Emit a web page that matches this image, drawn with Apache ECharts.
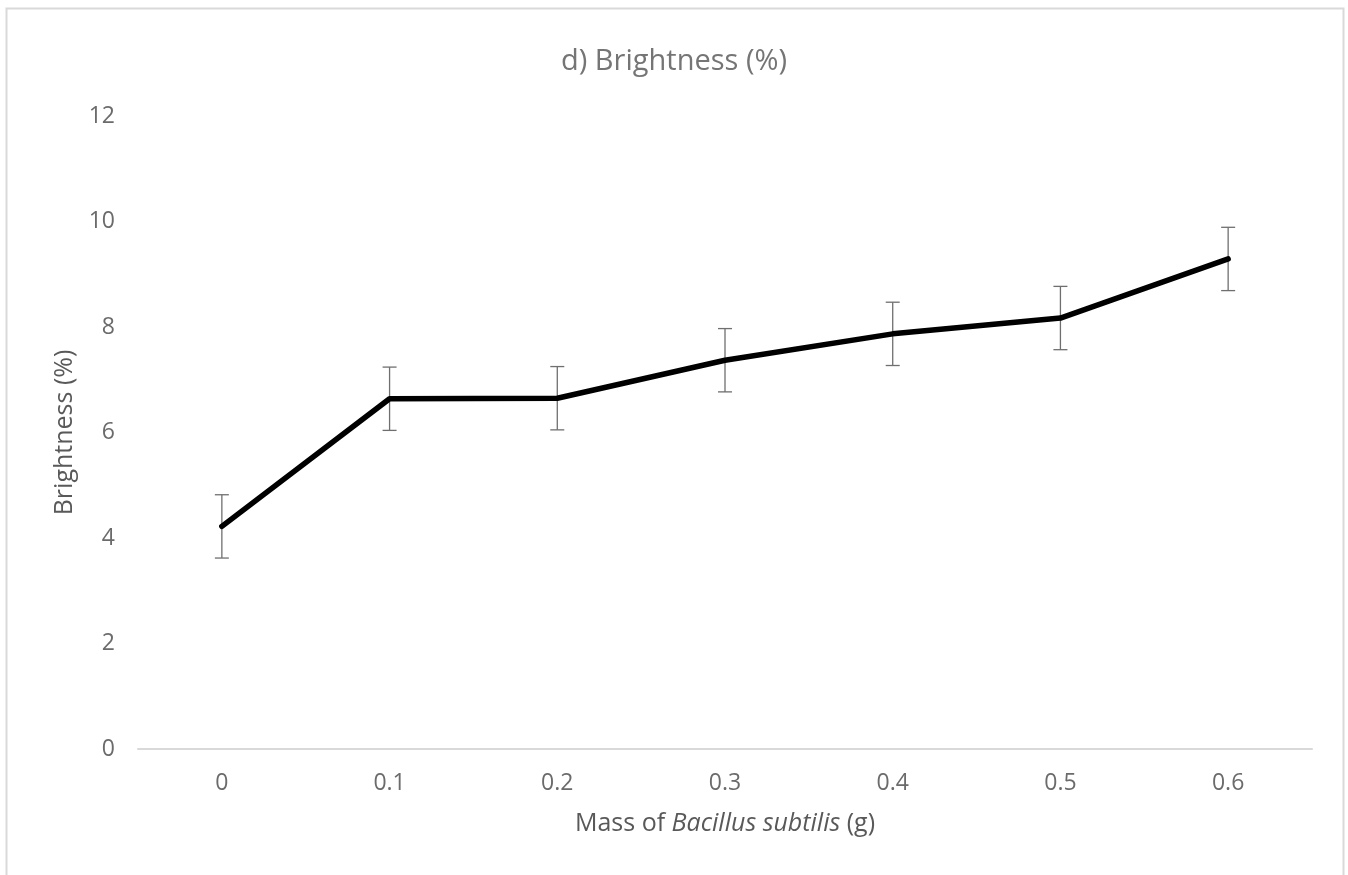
<!DOCTYPE html>
<html>
<head>
<meta charset="utf-8">
<script src="https://cdn.jsdelivr.net/npm/echarts@6/dist/echarts.min.js"></script>
<style>html,body{margin:0;padding:0;background:#fff;}#c{width:1348px;height:875px;}</style>
</head>
<body>
<div id="c"></div>
<script>
const categories = ['0', '0.1', '0.2', '0.3', '0.4', '0.5', '0.6'];
const brightness = [4.22, 6.64, 6.65, 7.37, 7.87, 8.17, 9.29];
const errors = [0.6, 0.6, 0.6, 0.6, 0.6, 0.6, 0.6];
const yTicks = { min: 0, max: 12, interval: 2 };

const errData = brightness.map((v, i) => [i, v - errors[i], v + errors[i]]);
const FONT = '"Open Sans", "Noto Sans", sans-serif';

const chart = echarts.init(document.getElementById('c'), null, { renderer: 'canvas' });
chart.setOption({
  backgroundColor: '#fff',
  animation: false,
  title: {
    text: 'd) Brightness (%)',
    left: 'center',
    top: 42,
    textStyle: { fontFamily: FONT, fontSize: 29, fontWeight: 'normal', color: '#757575' }
  },
  graphic: [{
    type: 'rect',
    shape: { x: 6.5, y: 8.5, width: 1337, height: 900 },
    style: { fill: 'none', stroke: '#d9d9d9', lineWidth: 2 },
    silent: true
  }],
  grid: { left: 138, right: 36, top: 116, bottom: 126 },
  xAxis: {
    type: 'category',
    data: categories,
    boundaryGap: true,
    axisLine: { lineStyle: { color: '#d9d9d9', width: 2 } },
    axisTick: { show: false },
    axisLabel: { fontFamily: FONT, fontSize: 23, color: '#6b6b6b', margin: 23 },
    name: '{n|Mass of }{i|Bacillus subtilis}{n| (g)}',
    nameLocation: 'middle',
    nameGap: 62,
    nameTextStyle: {
      rich: {
        n: { fontFamily: FONT, fontSize: 25, color: '#595959' },
        i: { fontFamily: FONT, fontSize: 25, color: '#595959', fontStyle: 'italic' }
      }
    }
  },
  yAxis: {
    type: 'value',
    min: yTicks.min,
    max: yTicks.max,
    interval: yTicks.interval,
    axisLine: { show: false },
    axisTick: { show: false },
    splitLine: { show: false },
    axisLabel: { fontFamily: FONT, fontSize: 23, color: '#6b6b6b', margin: 23 },
    name: 'Brightness (%)',
    nameLocation: 'middle',
    nameGap: 60,
    nameTextStyle: { fontFamily: FONT, fontSize: 25, color: '#595959' }
  },
  series: [
    {
      type: 'custom',
      z: 1,
      data: errData,
      renderItem: function (params, api) {
        const x = api.value(0);
        const lo = api.coord([x, api.value(1)]);
        const hi = api.coord([x, api.value(2)]);
        const hw = 7;
        const st = { stroke: '#6f6f6f', lineWidth: 1.3 };
        return {
          type: 'group',
          children: [
            { type: 'line', shape: { x1: lo[0], y1: lo[1], x2: hi[0], y2: hi[1] }, style: st },
            { type: 'line', shape: { x1: lo[0] - hw, y1: lo[1], x2: lo[0] + hw, y2: lo[1] }, style: st },
            { type: 'line', shape: { x1: hi[0] - hw, y1: hi[1], x2: hi[0] + hw, y2: hi[1] }, style: st }
          ]
        };
      }
    },
    {
      type: 'line',
      z: 3,
      data: brightness,
      showSymbol: false,
      symbol: 'none',
      lineStyle: { color: '#000', width: 5.5, cap: 'round', join: 'round' }
    }
  ]
});
</script>
</body>
</html>
